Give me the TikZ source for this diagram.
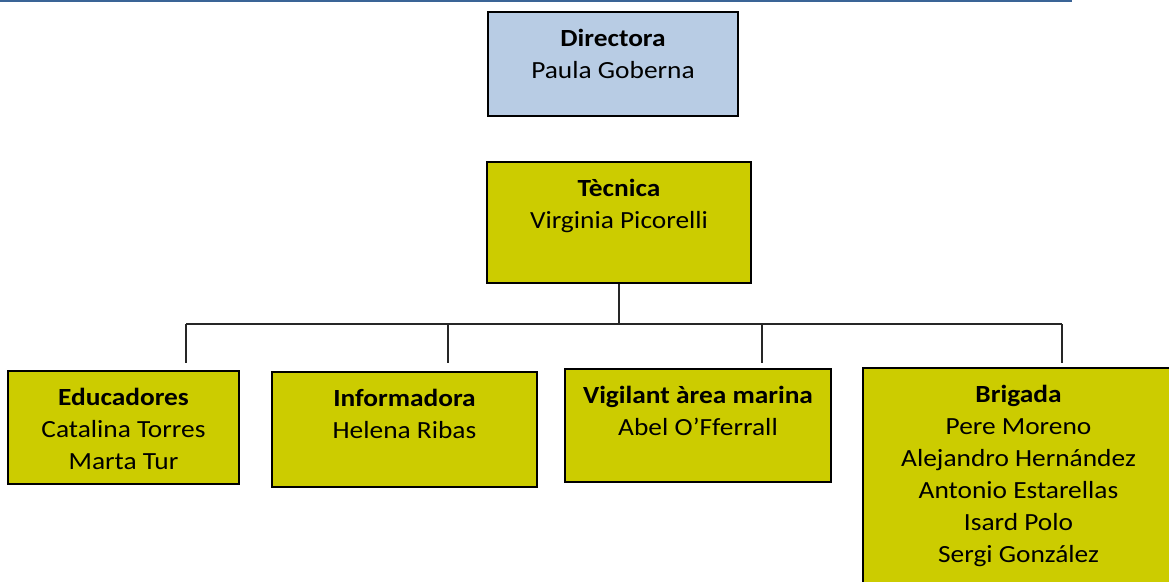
\documentclass[tikz,border=0pt]{standalone}
\usepackage{fontspec}
\setmainfont{Carlito}[FakeStretch=1.11]
\usetikzlibrary{positioning}

\definecolor{dirblue}{HTML}{B8CCE4}
\definecolor{staffolive}{HTML}{CCCC00}
\definecolor{rulebl}{HTML}{3A6496}

\def\px{0.75pt}

\begin{document}
\begin{tikzpicture}
  [
    x=0.75pt, y=-0.75pt,
    box/.style = {draw=black, line width=1.5pt, rectangle, inner sep=0pt},
    dirbox/.style = {box, fill=dirblue},
    staffbox/.style = {box, fill=staffolive},
    boxtxt/.style = {anchor=north, align=center, inner sep=0pt, font=\fontsize{18.5}{24}\selectfont},
    wire/.style = {draw=black!85, line width=1.1pt},
  ]

  \useasboundingbox (0,0) rectangle (1169,581);
  \clip (0,0) rectangle (1169,581);

  % top rule
  \coordinate (ruleL) at (0,1);
  \coordinate (ruleR) at (1072,1);
  \draw[rulebl, line width=1.6pt] (ruleL) -- (ruleR);

  % Directora
  \node (dir) at (613,64) [dirbox, minimum width={250*\px}, minimum height={104*\px}] {};
  \node (dirtxt) at ([yshift=-17.5*\px]dir.north) [boxtxt] {\textbf{Directora}\\Paula Goberna};

  % Tecnica
  \node (tec) at (619,222.5) [staffbox, minimum width={264*\px}, minimum height={121*\px}] {};
  \node (tectxt) at ([yshift=-17.5*\px]tec.north) [boxtxt] {\textbf{Tècnica}\\Virginia Picorelli};

  % staff row
  \node (edu) at (123.5,427.5) [staffbox, minimum width={231*\px}, minimum height={113*\px}] {};
  \node (edutxt) at ([yshift=-17.5*\px]edu.north) [boxtxt] {\textbf{Educadores}\\Catalina Torres\\Marta Tur};

  \node (inf) at (404.5,429.5) [staffbox, minimum width={265*\px}, minimum height={115*\px}] {};
  \node (inftxt) at ([yshift=-17.5*\px]inf.north) [boxtxt] {\textbf{Informadora}\\Helena Ribas};

  \node (vig) at (698,425.5) [staffbox, minimum width={266*\px}, minimum height={113*\px}] {};
  \node (vigtxt) at ([yshift=-17.5*\px]vig.north) [boxtxt] {\textbf{Vigilant àrea marina}\\Abel O’Fferrall};

  \node (bri) at (1026.5,484) [staffbox, minimum width={327*\px}, minimum height={232*\px}] {}; % runs off the page
  \node (britxt) at ([xshift=-8*\px, yshift=-17.5*\px]bri.north) [boxtxt] {\textbf{Brigada}\\Pere Moreno\\Alejandro Hernández\\Antonio Estarellas\\Isard Polo\\Sergi González};

  % connectors
  \coordinate (bus) at (619,324);
  \coordinate (eduIn) at (186,363);
  \coordinate (infIn) at (448,363);
  \coordinate (vigIn) at (762,363);
  \coordinate (briIn) at (1062,363);

  \draw[wire] (tec.south) -- (bus);
  \draw[wire] (eduIn |- bus) -- (briIn |- bus);
  \draw[wire] (eduIn |- bus) -- (eduIn);
  \draw[wire] (infIn |- bus) -- (infIn);
  \draw[wire] (vigIn |- bus) -- (vigIn);
  \draw[wire] (briIn |- bus) -- (briIn);
\end{tikzpicture}
\end{document}
